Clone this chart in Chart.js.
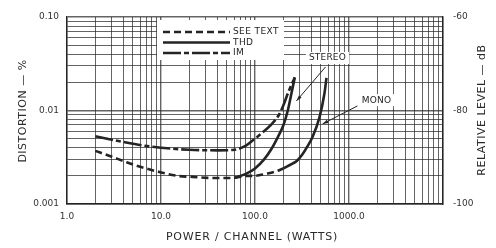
<!DOCTYPE html>
<html>
<head>
<meta charset="utf-8">
<script src="https://cdn.jsdelivr.net/npm/chart.js@4.4.1/dist/chart.umd.min.js"></script>
<style>
  html, body { margin: 0; padding: 0; background: #fff; }
  canvas { display: block; }
</style>
</head>
<body>
<canvas id="graph" width="496" height="248"></canvas>
<script>
// power per channel (W) vs distortion (%)
const seeTextPower = [2, 3, 4.3, 6, 9.6, 15, 21.6, 35, 57, 80, 100, 130, 160, 200];
const seeTextDist = [0.0037, 0.0032, 0.0028, 0.0025, 0.0022, 0.0020, 0.00195, 0.0019, 0.0019, 0.0020, 0.0020, 0.0021, 0.0022, 0.0024];

const thdStereoPower = [60, 80, 100, 125, 150, 175, 200, 225, 245, 265];
const thdStereoDist = [0.0019, 0.0021, 0.0024, 0.0030, 0.0039, 0.0052, 0.0069, 0.0103, 0.0155, 0.0225];

const thdMonoPower = [200, 250, 280, 320, 360, 409, 486, 549, 576];
const thdMonoDist = [0.0024, 0.0027, 0.0029, 0.0034, 0.0041, 0.0052, 0.0085, 0.0154, 0.0223];

const imPower = [2, 4, 8, 20, 40, 60, 80, 95, 120, 145, 180, 200, 225, 250, 265];
const imDist = [0.0053, 0.0046, 0.0041, 0.0038, 0.00375, 0.0038, 0.0042, 0.0048, 0.0058, 0.0069, 0.0090, 0.0113, 0.0155, 0.0198, 0.0226];

const xTickValues = [1, 10, 100, 1000];
const xTickLabels = ['1.0', '10.0', '100.0', '1000.0'];
const yTickValues = [0.001, 0.01, 0.1];
const yTickLabels = ['0.001', '0.01', '0.10'];
const dbTickLabels = ['-100', '-80', '-60'];

const ink = '#242424';
const gridInk = 'rgba(40,40,40,0.72)';
const font = 'DejaVu Sans';

const pts = (xs, ys) => xs.map((x, i) => ({ x: x, y: ys[i] }));

function allLogTicks(min, max) {
    let t = [];
    for (let d = min; d < max * 0.999; d *= 10) {
        for (let m = 1; m < 10; m++) t.push({ value: +(m * d).toPrecision(4) });
    }
    t.push({ value: max });
    return t;
}

const isDecade = v => Math.abs(Math.log10(v) - Math.round(Math.log10(v))) < 1e-6;

function labelFor(values, labels) {
    return function (value) {
        let i = values.findIndex(t => Math.abs(t - value) / t < 1e-6);
        return i < 0 ? '' : labels[i];
    };
}

const gridOpts = {
    color: gridInk,
    lineWidth: ctx => (ctx.tick && isDecade(ctx.tick.value)) ? 1.4 : 1,
    drawTicks: false
};

// legend, callouts and axis titles
const extras = {
    id: 'extras',
    afterDraw(chart) {
        const ctx = chart.ctx;
        const xs = chart.scales.x, ys = chart.scales.y;
        const px = v => xs.getPixelForValue(v), py = v => ys.getPixelForValue(v);

        ctx.save();
        // legend box
        ctx.fillStyle = '#fff';
        ctx.fillRect(157, 20, 127, 40);
        let rowY = 32;
        chart.data.datasets.forEach(ds => {
            if (ds.inLegend === false) return;
            ctx.strokeStyle = ink;
            ctx.lineWidth = 2.4;
            ctx.setLineDash(ds.borderDash || []);
            ctx.beginPath();
            ctx.moveTo(163, rowY);
            ctx.lineTo(230, rowY);
            ctx.stroke();
            ctx.setLineDash([]);
            ctx.fillStyle = ink;
            ctx.font = '9px "' + font + '"';
            ctx.letterSpacing = '0.4px';
            ctx.textBaseline = 'middle';
            ctx.textAlign = 'left';
            ctx.fillText(ds.label, 233, rowY);
            rowY += 10.5;
        });

        // callouts
        const callouts = [
            { text: 'STEREO', at: [590, 0.0364], from: [562, 0.0292], to: [276, 0.01265] },
            { text: 'MONO', at: [1963, 0.0129], from: [1231, 0.0112], to: [523, 0.00718] }
        ];
        ctx.font = '9px "' + font + '"';
        ctx.letterSpacing = '0.2px';
        callouts.forEach(c => {
            let x0 = px(c.from[0]), y0 = py(c.from[1]);
            let x1 = px(c.to[0]), y1 = py(c.to[1]);
            ctx.strokeStyle = ink;
            ctx.lineWidth = 1;
            ctx.beginPath();
            ctx.moveTo(x0, y0);
            ctx.lineTo(x1, y1);
            ctx.stroke();
            let a = Math.atan2(y1 - y0, x1 - x0);
            ctx.fillStyle = ink;
            ctx.beginPath();
            ctx.moveTo(x1, y1);
            ctx.lineTo(x1 - 6 * Math.cos(a - 0.3), y1 - 6 * Math.sin(a - 0.3));
            ctx.lineTo(x1 - 6 * Math.cos(a + 0.3), y1 - 6 * Math.sin(a + 0.3));
            ctx.closePath();
            ctx.fill();

            let tx = px(c.at[0]), ty = py(c.at[1]);
            let w = ctx.measureText(c.text).width;
            ctx.fillStyle = '#fff';
            ctx.fillRect(tx - w / 2 - 3, ty - 6, w + 6, 12);
            ctx.fillStyle = ink;
            ctx.textAlign = 'center';
            ctx.textBaseline = 'middle';
            ctx.fillText(c.text, tx, ty);
        });

        // axis titles
        ctx.fillStyle = '#2a2a2a';
        ctx.font = '11px "' + font + '"';
        ctx.letterSpacing = '0.8px';
        ctx.textAlign = 'center';
        ctx.textBaseline = 'middle';
        ctx.fillText('POWER / CHANNEL (WATTS)', 252, 237);

        ctx.letterSpacing = '0.5px';
        ctx.save();
        ctx.translate(23, 111);
        ctx.rotate(-Math.PI / 2);
        ctx.fillText('DISTORTION \u2014 %', 0, 0);
        ctx.restore();

        ctx.save();
        ctx.translate(482, 110);
        ctx.rotate(-Math.PI / 2);
        ctx.fillText('RELATIVE LEVEL \u2014 dB', 0, 0);
        ctx.restore();
        ctx.restore();
    }
};

const lineStyle = {
    borderColor: ink,
    borderWidth: 2.6,
    pointRadius: 0,
    fill: false,
    cubicInterpolationMode: 'monotone'
};

const config = {
    type: 'line',
    data: {
        datasets: [
            Object.assign({ label: 'SEE TEXT', data: pts(seeTextPower, seeTextDist), borderDash: [7, 4] }, lineStyle),
            Object.assign({ label: 'THD', data: pts(thdStereoPower, thdStereoDist) }, lineStyle),
            Object.assign({ label: 'THD mono', inLegend: false, data: pts(thdMonoPower, thdMonoDist) }, lineStyle),
            Object.assign({ label: 'IM', data: pts(imPower, imDist), borderDash: [18, 3, 5, 3] }, lineStyle)
        ]
    },
    options: {
        responsive: false,
        animation: false,
        devicePixelRatio: 1,
        layout: { padding: { top: 17, left: 0, right: 0, bottom: 0 } },
        plugins: { legend: { display: false }, tooltip: { enabled: false } },
        scales: {
            x: {
                type: 'logarithmic',
                min: 1,
                max: 10000,
                afterBuildTicks: s => { s.ticks = allLogTicks(1, 10000); },
                afterFit: s => { s.height = 44; },
                grid: gridOpts,
                border: { color: ink, width: 1.4 },
                ticks: {
                    autoSkip: false,
                    maxRotation: 0,
                    padding: 7,
                    color: '#333',
                    font: { family: font, size: 9 },
                    callback: labelFor(xTickValues, xTickLabels)
                }
            },
            y: {
                type: 'logarithmic',
                position: 'left',
                min: 0.001,
                max: 0.1,
                afterBuildTicks: s => { s.ticks = allLogTicks(0.001, 0.1); },
                afterFit: s => { s.width = 67; },
                grid: gridOpts,
                border: { color: ink, width: 1.4 },
                ticks: {
                    autoSkip: false,
                    padding: 8,
                    color: '#333',
                    font: { family: font, size: 9 },
                    callback: labelFor(yTickValues, yTickLabels)
                }
            },
            y2: {
                type: 'logarithmic',
                position: 'right',
                min: 0.001,
                max: 0.1,
                afterBuildTicks: s => { s.ticks = yTickValues.map(v => ({ value: v })); },
                afterFit: s => { s.width = 53; },
                grid: { drawOnChartArea: false, drawTicks: false },
                border: { color: ink, width: 1.4 },
                ticks: {
                    autoSkip: false,
                    padding: 10,
                    color: '#333',
                    font: { family: font, size: 9 },
                    callback: labelFor(yTickValues, dbTickLabels)
                }
            }
        }
    },
    plugins: [extras]
};

new Chart(document.getElementById('graph'), config);
</script>
</body>
</html>
